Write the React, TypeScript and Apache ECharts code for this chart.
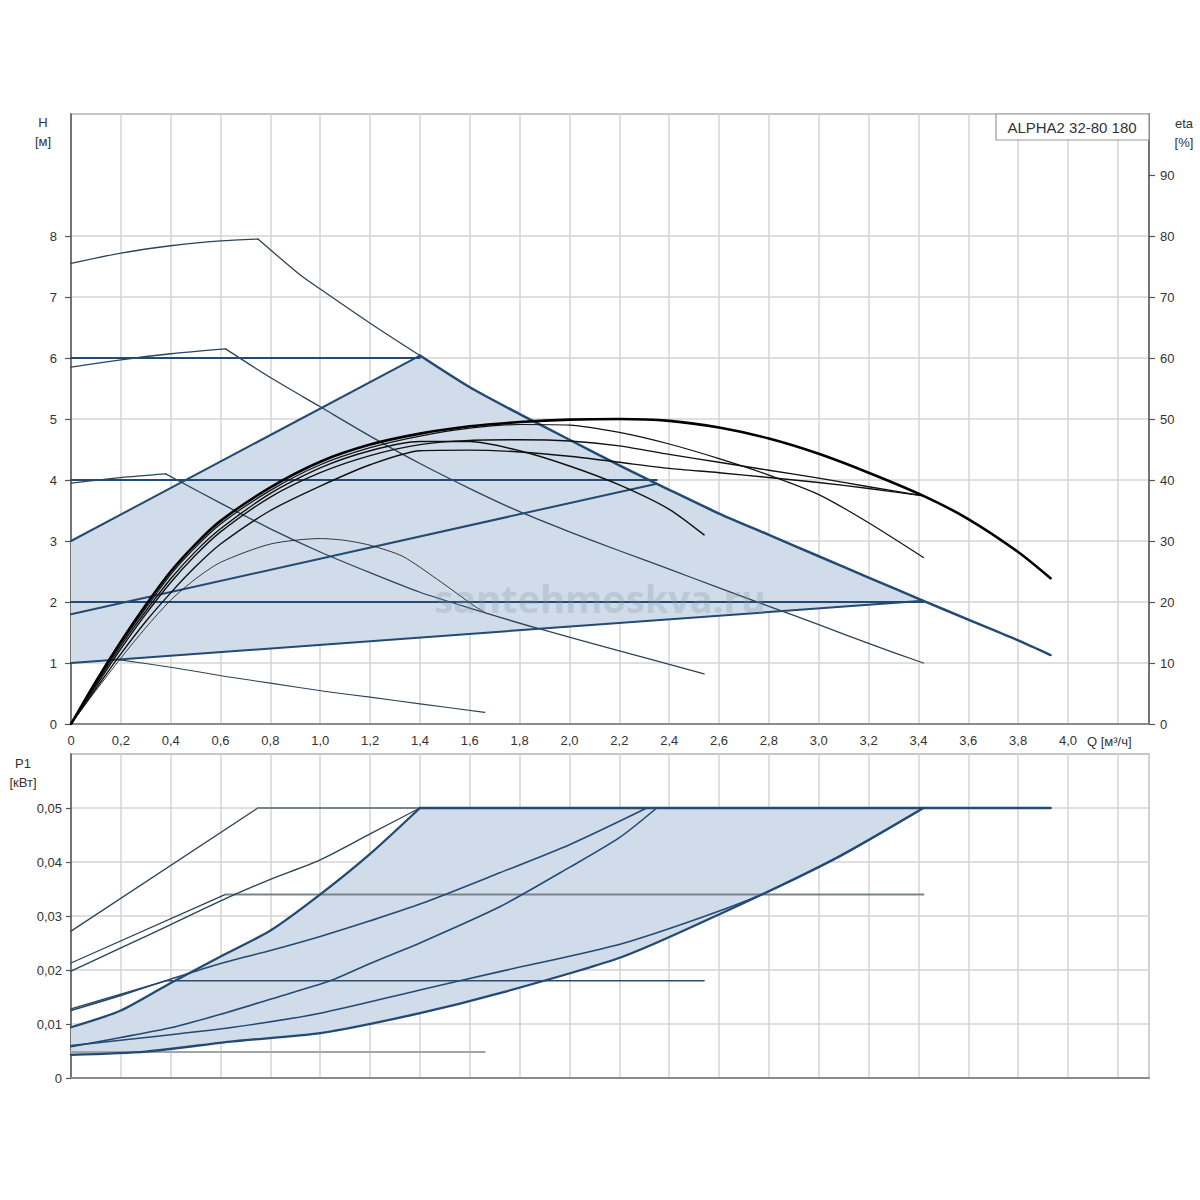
import React, { useEffect, useRef } from "react";
import * as echarts from "echarts";

// ---- tick labels ----
const qTicks = [0, 0.2, 0.4, 0.6, 0.8, 1.0, 1.2, 1.4, 1.6, 1.8, 2.0, 2.2, 2.4, 2.6, 2.8, 3.0, 3.2, 3.4, 3.6, 3.8, 4.0];
const hTicks = [0, 1, 2, 3, 4, 5, 6, 7, 8];
const etaTicks = [0, 10, 20, 30, 40, 50, 60, 70, 80, 90];
const pTicks = [0, 0.01, 0.02, 0.03, 0.04, 0.05];

// ---- H(Q) pump curves [Q m3/h, H m] ----
const hMaxHead = [[0, 7.55], [0.2, 7.72], [0.4, 7.84], [0.6, 7.92], [0.75, 7.95], [0.92, 7.36], [1.0, 7.13], [1.2, 6.57], [1.4, 6.04]];
const hMaxTail = [[1.4, 6.04], [1.6, 5.52], [1.8, 5.08], [2.0, 4.66], [2.2, 4.24], [2.4, 3.84], [2.6, 3.45], [2.8, 3.1], [3.0, 2.75], [3.2, 2.4], [3.42, 2.02], [3.6, 1.71], [3.8, 1.37], [3.93, 1.13]];
const hSpeed2 = [[0, 5.85], [0.2, 5.97], [0.4, 6.07], [0.62, 6.15], [0.8, 5.68], [1.0, 5.2], [1.2, 4.72], [1.4, 4.27], [1.6, 3.86], [1.8, 3.48], [2.0, 3.15], [2.2, 2.84], [2.4, 2.54], [2.6, 2.23], [2.8, 1.93], [3.0, 1.63], [3.2, 1.32], [3.42, 1.0]];
const hSpeed3 = [[0, 3.95], [0.2, 4.04], [0.38, 4.1], [0.6, 3.62], [0.8, 3.2], [1.0, 2.82], [1.2, 2.48], [1.4, 2.16], [1.6, 1.9], [1.87, 1.57], [2.2, 1.2], [2.54, 0.82]];
const hMin = [[0.18, 1.06], [0.4, 0.93], [0.62, 0.78], [0.8, 0.67], [1.03, 0.53], [1.2, 0.44], [1.4, 0.33], [1.66, 0.19]];

// control curves
const hConst6 = [[0, 6], [1.4, 6]];
const hConst4 = [[0, 4], [2.35, 4]];
const hConst2 = [[0, 2], [3.42, 2]];
const hProp6 = [[0, 3], [1.4, 6.04]];
const hProp4 = [[0, 1.8], [2.35, 3.94]];
const hProp2 = [[0, 1], [3.42, 2.02]];

// ---- eta(Q) [Q, %] ----
const eta1 = [[0, 0], [0.1, 7], [0.2, 13.5], [0.3, 19.5], [0.4, 25], [0.5, 29.5], [0.6, 33.3], [0.8, 38.8], [1.0, 43], [1.2, 45.8], [1.4, 47.6], [1.6, 48.8], [1.8, 49.5], [2.0, 49.9], [2.2, 50], [2.4, 49.7], [2.6, 48.6], [2.8, 46.8], [3.0, 44.3], [3.2, 41.2], [3.42, 37.4], [3.6, 33.6], [3.8, 28.2], [3.93, 23.9]];
const eta2 = [[0, 0], [0.1, 6.8], [0.2, 13.2], [0.3, 19], [0.4, 24.5], [0.5, 29], [0.6, 32.8], [0.8, 38.3], [1.0, 42.5], [1.2, 45.3], [1.4, 47.2], [1.6, 48.5], [1.8, 49.1], [2.0, 49], [2.2, 47.8], [2.4, 45.9], [2.6, 43.5], [2.8, 40.8], [3.0, 37.6], [3.2, 33], [3.42, 27.3]];
const eta3 = [[0, 0], [0.1, 6.5], [0.2, 12.8], [0.3, 18.5], [0.4, 23.8], [0.5, 28.3], [0.6, 32], [0.8, 37.8], [1.0, 42], [1.2, 44.8], [1.4, 46.3], [1.6, 46.3], [1.8, 44.8], [2.0, 42.3], [2.2, 39.2], [2.4, 35.2], [2.54, 31]];
const eta4 = [[0, 0], [0.1, 6.2], [0.2, 12.3], [0.3, 18], [0.4, 23.2], [0.5, 27.7], [0.6, 31.5], [0.8, 37.2], [1.0, 41.2], [1.2, 44], [1.4, 45.8], [1.6, 46.5], [1.8, 46.6], [2.0, 46.4], [2.2, 45.6], [2.4, 44.2], [2.6, 42.9], [2.8, 41.6], [3.0, 40.3], [3.2, 38.9], [3.42, 37.4]];
const eta5 = [[0, 0], [0.1, 5.8], [0.2, 11.5], [0.3, 16.8], [0.4, 21.5], [0.5, 25.8], [0.6, 29.5], [0.8, 35], [1.0, 39], [1.2, 42.5], [1.4, 44.8], [1.6, 44.9], [1.8, 44.6], [2.0, 43.9], [2.2, 42.9], [2.4, 41.9], [2.6, 41.2], [2.8, 40.4], [3.0, 39.6], [3.2, 38.6], [3.42, 37.4]];
const etaMin = [[0, 0], [0.1, 5.5], [0.2, 10.8], [0.3, 15.8], [0.4, 20.3], [0.5, 23.8], [0.6, 26.5], [0.8, 29.5], [1.0, 30.4], [1.1, 30.1], [1.2, 29.3], [1.33, 27.5], [1.47, 23.7], [1.62, 19.3], [1.66, 18.3]];

// ---- P1(Q) [Q, kW] ----
const pMaxHead = [[0, 0.0272], [0.75, 0.05]];
const pMaxFlat = [[0.75, 0.05], [1.4, 0.05]];
const pMaxTail = [[1.4, 0.05], [3.93, 0.05]];
const pSpeed2Head = [[0, 0.0213], [0.62, 0.034]];
const pSpeed2Flat = [[0.62, 0.034], [3.42, 0.034]];
const pSpeed3Head = [[0, 0.0128], [0.38, 0.018]];
const pSpeed3Flat = [[0.38, 0.018], [2.54, 0.018]];
const pMinFlat = [[0, 0.0048], [1.66, 0.0048]];
const pConst6 = [[0, 0.0198], [0.2, 0.0241], [0.4, 0.0284], [0.62, 0.0332], [0.8, 0.0368], [1.0, 0.0404], [1.2, 0.0452], [1.4, 0.05]];
const pProp6 = [[0, 0.0094], [0.2, 0.0125], [0.4, 0.0176], [0.6, 0.0225], [0.8, 0.0273], [1.0, 0.034], [1.2, 0.0415], [1.4, 0.05]];
const pConst4 = [[0, 0.0125], [0.2, 0.0153], [0.38, 0.018], [0.6, 0.0212], [0.8, 0.0236], [1.0, 0.0262], [1.2, 0.0291], [1.4, 0.0322], [1.72, 0.038], [2.0, 0.0432], [2.31, 0.05]];
const pProp4 = [[0, 0.0058], [0.2, 0.0075], [0.4, 0.0093], [0.6, 0.0118], [0.8, 0.0146], [1.04, 0.018], [1.2, 0.0212], [1.4, 0.025], [1.72, 0.0317], [2.0, 0.039], [2.2, 0.0445], [2.35, 0.05]];
const pConst2 = [[0, 0.006], [0.3, 0.0075], [0.65, 0.0094], [1.0, 0.012], [1.4, 0.0163], [1.72, 0.0197], [2.22, 0.025], [2.72, 0.033], [3.06, 0.0404], [3.42, 0.05]];
const pProp2 = [[0, 0.0043], [0.3, 0.0049], [0.65, 0.0068], [1.0, 0.0083], [1.4, 0.012], [1.72, 0.0157], [2.21, 0.0224], [2.61, 0.0305], [3.06, 0.0405], [3.42, 0.05]];

const FONT = "Liberation Sans, Arial, sans-serif";
const TXT = "#333";
const FILL = "#d0dcea";
const BLUE = "#234a72";
const THIN = "#2c4457";
const GRAY = "#7a838c";
const GRID = "#d4d4d4";

const fmtQ = (v: number) => (Math.abs(v) < 1e-9 ? "0" : v.toFixed(1).replace(".", ","));
const fmtP = (v: number) => (Math.abs(v) < 1e-9 ? "0" : v.toFixed(2).replace(".", ","));

function line(data: number[][], color: string, width: number, xi: number, yi: number, z = 3, smooth: number | boolean = false) {
  return {
    type: "line",
    data,
    xAxisIndex: xi,
    yAxisIndex: yi,
    symbol: "none",
    showSymbol: false,
    smooth,
    silent: true,
    z,
    lineStyle: { color, width, cap: "round", join: "round" },
  };
}

function polygonSeries(poly: number[][], xi: number, yi: number) {
  return {
    type: "custom",
    xAxisIndex: xi,
    yAxisIndex: yi,
    silent: true,
    z: 1,
    data: [[poly[0][0], poly[0][1]]],
    renderItem: (params: any, api: any) => {
      if (params.dataIndex !== 0) return null;
      const pts = poly.map((p) => api.coord(p));
      return { type: "polygon", shape: { points: pts }, style: { fill: FILL, stroke: "none" } };
    },
  };
}

export default function App() {
  const ref = useRef<HTMLDivElement>(null);
  useEffect(() => {
    document.body.style.margin = "0";
    if (!ref.current) return;
    const chart = echarts.init(ref.current, undefined, { renderer: "svg" });

    const topFill = [...hProp6, ...hMaxTail.filter((p) => p[0] > 1.4 && p[0] <= 3.42), [0, 1]];
    const botFill = [...pProp6, [3.42, 0.05], ...pProp2.slice().reverse()];

    const xBase = (gi: number, labels: boolean) => ({
      type: "value",
      gridIndex: gi,
      min: 0,
      max: 4.325,
      interval: 0.2,
      axisLine: { show: true, onZero: false, lineStyle: { color: "#8a8a8a", width: 2 } },
      axisTick: { show: false },
      axisLabel: labels
        ? { show: true, customValues: qTicks, formatter: fmtQ, color: TXT, fontSize: 13, fontFamily: FONT, margin: 10 }
        : { show: false },
      splitLine: { show: true, lineStyle: { color: GRID, width: 1.5 } },
    });

    const SM = 0.25;
    const option: any = {
      animation: false,
      backgroundColor: "#ffffff",
      grid: [
        { left: 71, top: 114, width: 1078, height: 610, show: true, borderColor: "#b4b4b4", borderWidth: 1.5, backgroundColor: "transparent" },
        { left: 71, top: 754, width: 1078, height: 324, show: true, borderColor: "#b4b4b4", borderWidth: 1.5, backgroundColor: "transparent" },
      ],
      xAxis: [xBase(0, true), xBase(1, false)],
      yAxis: [
        {
          type: "value", gridIndex: 0, position: "left", min: 0, max: 10, interval: 1,
          axisLine: { show: true, onZero: false, lineStyle: { color: "#555", width: 1.5 } },
          axisTick: { show: true, customValues: hTicks, length: 6, lineStyle: { color: "#555", width: 1.2 } },
          axisLabel: { customValues: hTicks, color: TXT, fontSize: 13, fontFamily: FONT, margin: 14 },
          splitLine: { show: true, lineStyle: { color: GRID, width: 1.5 } },
        },
        {
          type: "value", gridIndex: 0, position: "right", min: 0, max: 100, interval: 10,
          axisLine: { show: true, onZero: false, lineStyle: { color: "#555", width: 1.5 } },
          axisTick: { show: true, customValues: etaTicks, length: 6, lineStyle: { color: "#555", width: 1.2 } },
          axisLabel: { customValues: etaTicks, color: TXT, fontSize: 13, fontFamily: FONT, margin: 11 },
          splitLine: { show: false },
        },
        {
          type: "value", gridIndex: 1, position: "left", min: 0, max: 0.06, interval: 0.01,
          axisLine: { show: true, onZero: false, lineStyle: { color: "#555", width: 1.5 } },
          axisTick: { show: true, customValues: pTicks, length: 5, lineStyle: { color: "#555", width: 1.2 } },
          axisLabel: { customValues: pTicks, formatter: fmtP, color: TXT, fontSize: 13, fontFamily: FONT, margin: 9 },
          splitLine: { show: true, lineStyle: { color: GRID, width: 1.5 } },
        },
      ],
      series: [
        polygonSeries(topFill, 0, 0),
        polygonSeries(botFill, 1, 2),
        // top: H curves
        line(hMaxHead.slice(0, 5), THIN, 1.3, 0, 0, 3, SM),
        line(hMaxHead.slice(4), THIN, 1.3, 0, 0, 3, SM),
        line(hSpeed2.slice(0, 4), THIN, 1.3, 0, 0, 3, SM),
        line(hSpeed2.slice(3), THIN, 1.3, 0, 0, 3, SM),
        line(hSpeed3.slice(0, 3), THIN, 1.3, 0, 0, 3, SM),
        line(hSpeed3.slice(2), THIN, 1.3, 0, 0, 3, SM),
        line(hMin, THIN, 1.1, 0, 0, 3, SM),
        line(hConst6, BLUE, 2, 0, 0, 4),
        line(hConst4, BLUE, 2, 0, 0, 4),
        line(hConst2, BLUE, 2, 0, 0, 4),
        line(hProp6, BLUE, 2, 0, 0, 4),
        line(hProp4, BLUE, 2, 0, 0, 4),
        line(hProp2, BLUE, 2, 0, 0, 4),
        line(hMaxTail, BLUE, 2.5, 0, 0, 4, SM),
        // eta curves
        line(etaMin, "#222", 0.9, 0, 1, 5, SM),
        line(eta5, "#111", 1.4, 0, 1, 5, SM),
        line(eta4, "#111", 1.4, 0, 1, 5, SM),
        line(eta3, "#111", 1.4, 0, 1, 5, SM),
        line(eta2, "#111", 1.2, 0, 1, 5, SM),
        line(eta1, "#000", 2.6, 0, 1, 6, SM),
        // bottom: P1 curves
        line(pMaxHead, THIN, 1.3, 1, 2),
        line(pMaxFlat, GRAY, 2, 1, 2),
        line(pSpeed2Head, THIN, 1.3, 1, 2),
        line(pSpeed2Flat, GRAY, 2, 1, 2),
        line(pSpeed3Head, THIN, 1.3, 1, 2),
        line(pSpeed3Flat, "#2f4d6b", 1.6, 1, 2),
        line(pMinFlat, "#a0a5aa", 2, 1, 2),
        line(pConst6, THIN, 1.4, 1, 2, 4, SM),
        line(pConst4, BLUE, 1.6, 1, 2, 4, SM),
        line(pProp4, BLUE, 1.6, 1, 2, 4, SM),
        line(pConst2, BLUE, 1.6, 1, 2, 4, SM),
        line(pProp6, BLUE, 2.3, 1, 2, 4, SM),
        line(pProp2, BLUE, 2.3, 1, 2, 4, SM),
        line(pMaxTail, BLUE, 2.5, 1, 2, 4),
      ],
      graphic: [
        { type: "text", x: 43, y: 122, style: { text: "H", font: `13px ${FONT}`, fill: TXT, align: "center", verticalAlign: "middle" } },
        { type: "text", x: 43, y: 141, style: { text: "[м]", font: `13px ${FONT}`, fill: TXT, align: "center", verticalAlign: "middle" } },
        { type: "text", x: 1184, y: 123, style: { text: "eta", font: `13px ${FONT}`, fill: TXT, align: "center", verticalAlign: "middle" } },
        { type: "text", x: 1184, y: 142, style: { text: "[%]", font: `13px ${FONT}`, fill: TXT, align: "center", verticalAlign: "middle" } },
        { type: "text", x: 23, y: 763, style: { text: "P1", font: `13px ${FONT}`, fill: TXT, align: "center", verticalAlign: "middle" } },
        { type: "text", x: 23, y: 782, style: { text: "[кВт]", font: `13px ${FONT}`, fill: TXT, align: "center", verticalAlign: "middle" } },
        { type: "text", x: 1087, y: 741, style: { text: "Q [м³/ч]", font: `13px ${FONT}`, fill: TXT, align: "left", verticalAlign: "middle" } },
        { type: "rect", shape: { x: 996, y: 114, width: 153, height: 26 }, style: { fill: "#fff", stroke: "#9a9a9a", lineWidth: 1.2 }, z: 100 },
        { type: "text", x: 1072, y: 127.5, z: 101, style: { text: "ALPHA2 32-80 180", font: `15px ${FONT}`, fill: TXT, align: "center", verticalAlign: "middle" } },
        { type: "text", x: 600, y: 598, z: 90, style: { text: "santehmoskva.ru", font: `bold 38px Open Sans, ${FONT}`, fill: "#8795a6", opacity: 0.3, align: "center", verticalAlign: "middle" } },
      ],
    };
    chart.setOption(option);
    return () => chart.dispose();
  }, []);
  return <div ref={ref} style={{ width: 1200, height: 1200 }} />;
}
